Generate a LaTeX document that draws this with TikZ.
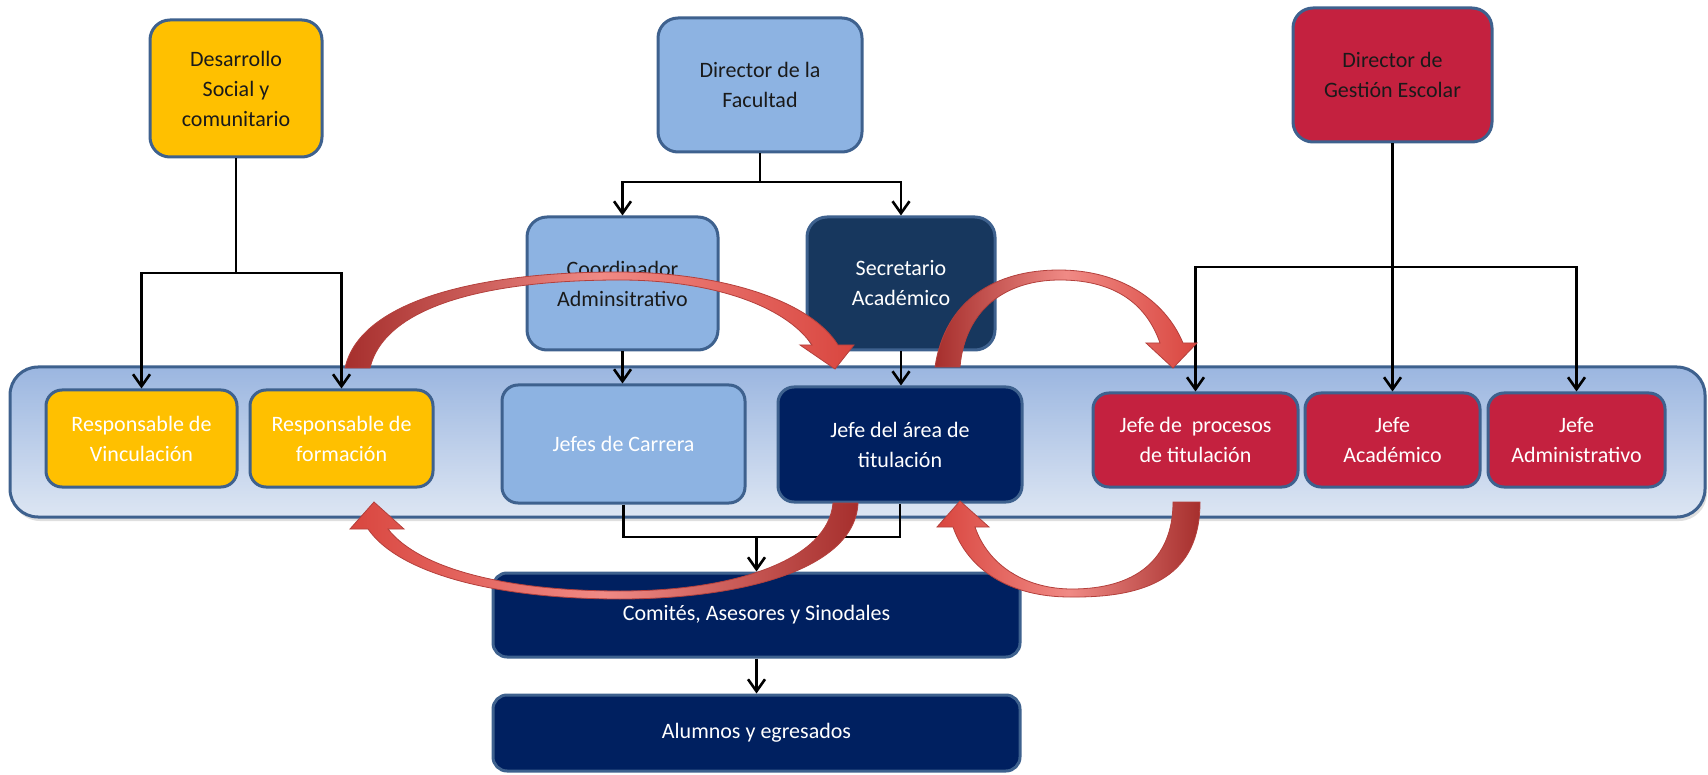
\documentclass[tikz,border=0pt]{standalone}
\usepackage{fontspec}
\setmainfont{Carlito}
\usetikzlibrary{arrows.meta,shadows}
\definecolor{bord}{HTML}{3E618E}
\definecolor{yel}{HTML}{FFC000}
\definecolor{lblue}{HTML}{8DB3E2}
\definecolor{slate}{HTML}{17375E}
\definecolor{navy}{HTML}{002060}
\definecolor{crim}{HTML}{C4213F}
\definecolor{bandtop}{HTML}{9BB6E0}
\definecolor{bandbot}{HTML}{DDE6F3}
\definecolor{rdark}{HTML}{A62F2D}
\definecolor{rlight}{HTML}{F08A85}
\definecolor{rmid}{HTML}{D9463F}
\definecolor{redge}{HTML}{B3403C}
\definecolor{txtdark}{HTML}{1A1A1A}
\begin{document}
\begin{tikzpicture}[x=1pt,y=-1pt,
  box/.style={draw=bord, line width=3pt, rounded corners=20pt, align=center, inner sep=0pt,
              font=\fontsize{22}{30}\selectfont},
  inbox/.style={box, rounded corners=16pt},
  conn/.style={line width=2.6pt, black},
  arr/.style={conn, -{Straight Barb[length=12pt,width=17pt]}},
  redarrow/.style={draw=redge, line width=0.8pt}
]
\useasboundingbox (0,0) rectangle (1708,775);

% band
\node[draw=bord, line width=3pt, rounded corners=28pt, top color=bandtop, bottom color=bandbot,
      minimum width=1695pt, minimum height=150pt,
      drop shadow={opacity=0.25,shadow xshift=2pt,shadow yshift=-4pt}] (band) at (857.5,442) {};

% top boxes
\node[box, fill=yel, text=txtdark, minimum width=172pt, minimum height=137pt] (des) at (236,88.5) {Desarrollo\\Social y\\comunitario};
\node[box, fill=lblue, text=txtdark, minimum width=204pt, minimum height=134pt] (dirf) at (760,85) {Director de la\\Facultad};
\node[box, fill=crim, text=txtdark, minimum width=199pt, minimum height=134pt] (dirg) at (1392.5,75) {Director de\\Gestión Escolar};
\node[box, fill=lblue, text=txtdark, minimum width=191pt, minimum height=133pt] (coord) at (622.5,283.5) {Coordinador\\Adminsitrativo};
\node[box, fill=slate, text=white, minimum width=188pt, minimum height=133pt] (sec) at (901,283.5) {Secretario\\Académico};

% band boxes
\node[inbox, fill=yel, text=white, minimum width=191pt, minimum height=97pt] (rv) at (141.5,438.5) {Responsable de\\Vinculación};
\node[inbox, fill=yel, text=white, minimum width=183pt, minimum height=97pt] (rf) at (341.5,438.5) {Responsable de\\formación};
\node[inbox, fill=lblue, text=white, minimum width=243pt, minimum height=118pt] (jc) at (623.5,444) {Jefes de Carrera};
\node[inbox, fill=navy, text=white, minimum width=244pt, minimum height=115pt] (ja) at (900,444.5) {Jefe del área de\\titulación};
\node[inbox, fill=crim, text=white, minimum width=205pt, minimum height=94pt] (jp) at (1195.5,440) {Jefe de \ procesos\\de titulación};
\node[inbox, fill=crim, text=white, minimum width=175pt, minimum height=94pt] (jac) at (1392.5,440) {Jefe\\Académico};
\node[inbox, fill=crim, text=white, minimum width=177pt, minimum height=94pt] (jad) at (1576.5,440) {Jefe\\Administrativo};

% bottom boxes
\node[box, rounded corners=14pt, fill=navy, text=white, minimum width=527pt, minimum height=84pt] (com) at (756.5,615) {Comités, Asesores y Sinodales};
\node[box, rounded corners=14pt, fill=navy, text=white, minimum width=527pt, minimum height=76pt] (alu) at (756.5,733) {Alumnos y egresados};

% connectors
\coordinate (dj) at (236,273);
\draw[conn] (des.south) -- (dj);
\draw[arr] (dj) -| (rv.north);
\draw[arr] (dj) -| (rf.north);

\coordinate (fj) at (760,182);
\draw[conn] (dirf.south) -- (fj);
\draw[arr] (fj) -| (coord.north);
\draw[arr] (fj) -| (sec.north);
\draw[arr] (coord.south) -- (coord.south |- jc.north);
\draw[arr] (sec.south) -- (sec.south |- ja.north);

\coordinate (gj) at (1392.5,267);
\draw[conn] (dirg.south) -- (gj);
\draw[arr] (gj) -| (jp.north);
\draw[arr] (gj) -- (jac.north);
\draw[arr] (gj) -| (jad.north);

\coordinate (cj) at (756.5,537);
\draw[conn] (jc.south) |- (cj);
\draw[conn] (ja.south) |- (cj);
\draw[arr] (cj) -- (com.north);
\draw[arr] (com.south) -- (alu.north);

% red curved arrows
\path[redarrow, left color=rdark, right color=rmid, middle color=rlight]
  (345,368) .. controls (360,300) and (480,272) .. (617,272)
  .. controls (720,272) and (810,300) .. (838,345)
  -- (854,345) -- (835,369) -- (800,345) -- (812,345)
  .. controls (785,305) and (710,280) .. (620,280)
  .. controls (490,280) and (385,305) .. (370,368) -- cycle;

\path[redarrow, left color=rdark, right color=rmid, middle color=rlight]
  (935,367) .. controls (945,300) and (995,270) .. (1059,270)
  .. controls (1120,270) and (1165,300) .. (1183,343)
  -- (1197,343) -- (1173,368) -- (1146,343) -- (1160,343)
  .. controls (1145,300) and (1110,280) .. (1060,280)
  .. controls (1005,280) and (965,310) .. (960,367) -- cycle;

\path[redarrow, left color=rmid, right color=rdark, middle color=rlight]
  (858,503) .. controls (855,570) and (740,599) .. (620,599)
  .. controls (500,599) and (400,575) .. (368,529)
  -- (350,529) -- (374,502) -- (404,529) -- (388,529)
  .. controls (420,570) and (510,591) .. (620,591)
  .. controls (735,591) and (828,560) .. (833,503) -- cycle;

\path[redarrow, left color=rmid, right color=rdark, middle color=rlight]
  (1200,502) .. controls (1200,575) and (1150,598) .. (1070,597)
  .. controls (1010,597) and (968,570) .. (953,527)
  -- (937,527) -- (960,501) -- (989,527) -- (975,527)
  .. controls (988,565) and (1025,589) .. (1072,589)
  .. controls (1135,589) and (1173,560) .. (1173,502) -- cycle;
\end{tikzpicture}
\end{document}
